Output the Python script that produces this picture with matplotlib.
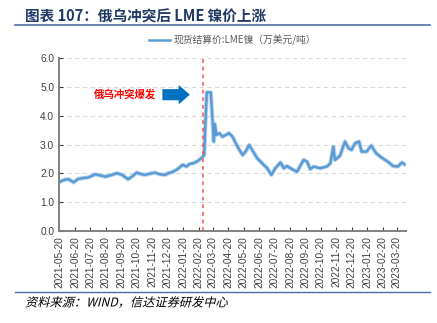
import matplotlib.pyplot as plt
import matplotlib.dates as mdates
from matplotlib.textpath import TextPath
from matplotlib.patches import PathPatch
from matplotlib.font_manager import FontProperties
from matplotlib.transforms import Affine2D
import pandas as pd

plt.rcParams['font.family'] = ['Noto Sans CJK SC', 'DejaVu Sans']

# LME 镍现货结算价（万美元/吨）
dates = ['2021-05-22', '2021-05-30', '2021-06-07', '2021-06-17', '2021-06-26', '2021-07-06',
         '2021-07-16', '2021-07-30', '2021-08-09', '2021-08-19', '2021-08-30', '2021-09-11',
         '2021-09-21', '2021-10-03', '2021-10-13', '2021-10-20', '2021-10-28', '2021-11-05',
         '2021-11-15', '2021-11-25', '2021-12-05', '2021-12-15', '2021-12-22', '2021-12-30',
         '2022-01-09', '2022-01-19', '2022-01-27', '2022-02-02', '2022-02-10', '2022-02-18',
         '2022-02-23', '2022-02-27', '2022-03-03', '2022-03-05', '2022-03-08', '2022-03-16',
         '2022-03-22', '2022-03-24', '2022-03-27', '2022-04-02', '2022-04-08', '2022-04-15',
         '2022-04-21', '2022-04-28', '2022-05-08', '2022-05-18', '2022-05-24', '2022-05-31',
         '2022-06-06', '2022-06-16', '2022-06-26', '2022-07-06', '2022-07-14', '2022-07-22',
         '2022-08-01', '2022-08-08', '2022-08-14', '2022-08-24', '2022-09-03', '2022-09-16',
         '2022-09-23', '2022-09-29', '2022-10-06', '2022-10-19', '2022-11-01', '2022-11-08',
         '2022-11-14', '2022-11-17', '2022-11-27', '2022-12-07', '2022-12-14', '2022-12-20',
         '2022-12-27', '2023-01-04', '2023-01-09', '2023-01-19', '2023-01-28', '2023-02-07',
         '2023-02-17', '2023-03-02', '2023-03-12', '2023-03-22', '2023-03-30', '2023-04-04']
prices = [1.72, 1.78, 1.80, 1.69, 1.81, 1.84,
          1.86, 1.97, 1.93, 1.89, 1.94, 2.01,
          1.95, 1.80, 1.92, 2.03, 1.98, 1.95,
          1.99, 2.03, 1.97, 1.95, 2.01, 2.05,
          2.15, 2.30, 2.24, 2.33, 2.36, 2.43,
          2.50, 2.56, 2.65, 3.60, 4.82, 4.82,
          3.11, 3.72, 3.34, 3.40, 3.28, 3.34,
          3.40, 3.28, 2.93, 2.64, 2.76, 2.99,
          2.82, 2.53, 2.35, 2.18, 1.95, 2.18,
          2.38, 2.18, 2.26, 2.15, 2.06, 2.47,
          2.41, 2.15, 2.24, 2.18, 2.24, 2.35,
          2.93, 2.47, 2.61, 3.11, 2.88, 2.82,
          3.05, 3.11, 2.76, 2.76, 2.97, 2.70,
          2.56, 2.41, 2.26, 2.24, 2.38, 2.32]
tick_dates = pd.date_range('2021-05-01', '2023-03-01', freq='MS') + pd.Timedelta(days=19)
war_date = '2022-02-28'

fig = plt.figure(figsize=(4.37, 3.23), dpi=100)
ax = fig.add_axes([0.135, 0.285, 0.794, 0.534])

x = pd.to_datetime(dates)
ax.plot(x, prices, color='#9DC3E6', lw=3.2, alpha=0.6, solid_joinstyle='round')
line, = ax.plot(x, prices, color='#5B9BD5', lw=1.8, solid_joinstyle='round',
                label='现货结算价:LME镍（万美元/吨）')
ax.axvline(pd.Timestamp(war_date), color='#FF5050', ls=(0, (2.5, 2.5)), lw=1.1)

ax.set_ylim(0, 6)
ax.set_yticks([0, 1, 2, 3, 4, 5, 6])
ax.yaxis.set_major_formatter(plt.FormatStrFormatter('%.1f'))
ax.set_xlim(pd.Timestamp('2021-05-19'), pd.Timestamp('2023-04-07'))
ax.set_xticks(tick_dates)
ax.xaxis.set_major_formatter(mdates.DateFormatter('%Y-%m-%d'))
plt.setp(ax.get_xticklabels(), rotation=90)
ax.tick_params(labelsize=7.3, colors='#404040', direction='in', length=3, width=0.8)
for lab in ax.get_xticklabels() + ax.get_yticklabels():
    lab.set_family('Liberation Sans')
ax.grid(axis='y', color='#D9D9D9', ls=(0, (4, 3)), lw=0.8)
for s in ['top', 'right']:
    ax.spines[s].set_visible(False)
for s in ['left', 'bottom']:
    ax.spines[s].set_color('#808080')
    ax.spines[s].set_linewidth(1.4)

ax.legend(handles=[line], loc='lower center', bbox_to_anchor=(0.5, 1.02), frameon=False,
          fontsize=7, labelcolor='#595959', handlelength=2.2, handletextpad=0.3)

# 冲突爆发标注
ax.text(0.10, 0.79, '俄乌冲突爆发', transform=ax.transAxes, color='#FF0000',
        fontsize=7.5, fontweight='bold', va='center')
ax.annotate('', xy=(0.385, 0.79), xytext=(0.29, 0.79), xycoords='axes fraction',
            arrowprops=dict(arrowstyle='simple,head_length=0.8,head_width=1.4,tail_width=0.8',
                            color='#0070C0', lw=0))

fig.text(0.057, 0.95, '图表 107：俄乌冲突后 LME 镍价上涨', fontsize=10.5,
         fontweight='bold', color='#1F3864', va='center')
fig.add_artist(plt.Line2D([0.035, 0.985], [0.922, 0.922], color='#4F6EA8', lw=1.2))
fig.add_artist(plt.Line2D([0.035, 0.985], [0.097, 0.097], color='#4F6EA8', lw=1.0))

# 斜体来源说明（中文字体无斜体，用错切变换）
src = TextPath((0, 0), '资料来源：WIND，信达证券研发中心', size=8.8,
               prop=FontProperties(family='Noto Sans CJK SC'))
skew = Affine2D().skew_deg(14, 0).scale(1 / 72).translate(0.25, 0.165) + fig.dpi_scale_trans
fig.add_artist(PathPatch(src, transform=skew, facecolor='#000000', lw=0))

fig.savefig('out.png', dpi=100)
